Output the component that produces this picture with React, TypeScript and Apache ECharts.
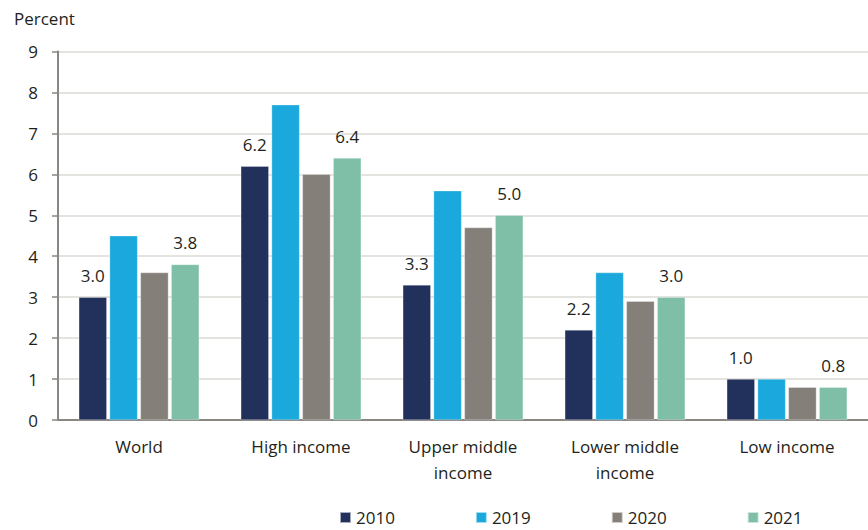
import React, { useEffect, useRef } from "react";
import * as echarts from "echarts";

const categories = ["World", "High income", "Upper middle\nincome", "Lower middle\nincome", "Low income"];
const seriesNames = ["2010", "2019", "2020", "2021"];
const v2010 = [3.0, 6.2, 3.3, 2.2, 1.0];
const v2019 = [4.5, 7.7, 5.6, 3.6, 1.0];
const v2020 = [3.6, 6.0, 4.7, 2.9, 0.8];
const v2021 = [3.8, 6.4, 5.0, 3.0, 0.8];
const yTicks = [0, 1, 2, 3, 4, 5, 6, 7, 8, 9];

const colors = ["#22305c", "#1ba9dd", "#847f78", "#7fbfa8"];
const FONT = "Open Sans";
const TEXT = "#231f20";
const FS = 17;

export default function App() {
  const ref = useRef<HTMLDivElement>(null);
  useEffect(() => {
    if (!ref.current) return;
    const chart = echarts.init(ref.current, null, { renderer: "svg" });
    const values = [v2010, v2019, v2020, v2021];
    const showLabel = [true, false, false, true];
    chart.setOption({
      animation: false,
      textStyle: { fontFamily: FONT, color: TEXT },
      title: {
        text: "Percent",
        left: 9,
        top: 5,
        textStyle: { fontFamily: FONT, fontSize: FS, fontWeight: "normal", color: TEXT },
      },
      legend: {
        left: 339,
        top: 509,
        padding: 0,
        itemWidth: 11,
        itemHeight: 11,
        itemGap: 80,
        icon: "rect",
        data: seriesNames,
        textStyle: { fontFamily: FONT, fontSize: FS, color: TEXT },
      },
      grid: { left: 58, right: 0, top: 51.5, bottom: 110, containLabel: false },
      xAxis: {
        type: "category",
        data: categories,
        axisLine: { lineStyle: { color: "#8a8782", width: 2 } },
        axisTick: { show: false },
        axisLabel: {
          fontFamily: FONT,
          fontSize: FS,
          color: TEXT,
          margin: 13,
          lineHeight: 26,
          interval: 0,
        },
      },
      yAxis: {
        type: "value",
        min: 0,
        max: 9,
        interval: 1,
        axisLine: { show: true, lineStyle: { color: "#8a8782", width: 2 } },
        axisTick: { show: true, length: 6, lineStyle: { color: "#8a8782", width: 1.5 } },
        splitLine: { lineStyle: { color: "#dcdad6", width: 1.5 } },
        axisLabel: {
          fontFamily: FONT,
          fontSize: FS,
          color: TEXT,
          margin: 20,
          formatter: (v: number) => (yTicks.includes(v) ? String(v) : ""),
        },
      },
      series: seriesNames.map((name, i) => ({
        name,
        type: "bar",
        data: values[i],
        barWidth: 28,
        barGap: "10%",
        itemStyle: { color: colors[i], borderColor: "rgba(255,255,255,0.6)", borderWidth: 0.5 },
        label: {
          show: showLabel[i],
          position: "top",
          distance: 13,
          fontFamily: FONT,
          fontSize: FS,
          color: TEXT,
          formatter: (p: any) => Number(p.value).toFixed(1),
        },
      })),
    });
    return () => chart.dispose();
  }, []);
  return (
    <div
      ref={ref}
      style={{ position: "fixed", left: 0, top: 0, width: 868, height: 530, background: "#fff" }}
    />
  );
}
